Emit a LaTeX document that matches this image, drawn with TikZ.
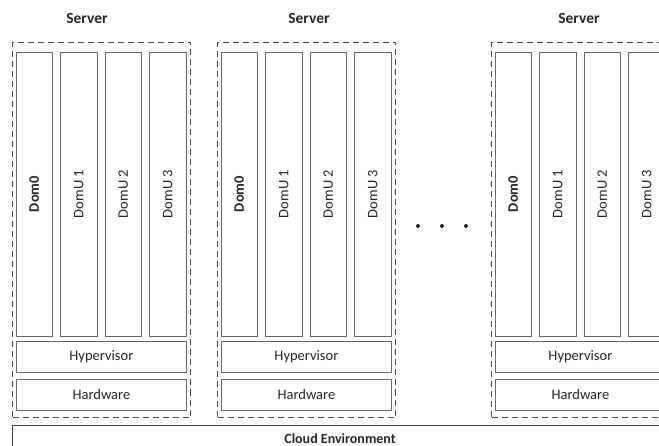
\documentclass[tikz,border=0pt]{standalone}
\usepackage{fontspec}
\setmainfont{Carlito}
\usepackage{tikz}

\begin{document}
\begin{tikzpicture}[
    x=1pt, y=-1pt,
    font=\fontsize{14.5}{16}\selectfont, text=black!85,
    dom/.style={draw=black!60, line width=0.8pt, inner sep=0pt, rotate=90,
                minimum width=284pt, minimum height=36.5pt},
    layer/.style={draw=black!60, line width=0.8pt, inner sep=0pt, anchor=north west,
                  minimum width=170pt, minimum height=31pt},
    host/.style={draw=black!70, line width=1pt, dash pattern=on 6pt off 4pt,
                 inner sep=0pt, anchor=north west, minimum width=178pt, minimum height=375pt}
]
\useasboundingbox (0,0) rectangle (659,446);
\clip (0,0) rectangle (659,446);

% one server: dashed frame, four domains, hypervisor and hardware
\foreach \n/\x/\lx in {1/0/87, 2/205/104, 3/479/100} {
  \begin{scope}[xshift=\x pt]
    \node[host] (host\n) at (12,42) {};
    \node[font=\fontsize{15.5}{17}\selectfont\bfseries] (title\n) at (\lx,18) {Server};
    \node[dom] (dom\n-0) at (34.25,194)  {\textbf{Dom0}};
    \node[dom] (dom\n-1) at (78.75,194)  {DomU 1};
    \node[dom] (dom\n-2) at (123.25,194) {DomU 2};
    \node[dom] (dom\n-3) at (167.75,194) {DomU 3};
    \node[layer] (hyp\n) at (16,341) {Hypervisor};
    \node[layer] (hw\n)  at (16,379) {Hardware};
  \end{scope}
}

% servers left out in between
\foreach \d in {418,442,466}
  \fill[black!85] (\d,226) circle (2);

% the cloud below all servers
\node[draw=black!75, line width=1.2pt, anchor=north west, inner sep=0pt,
      minimum width=700pt, minimum height=40pt] (cloud) at (12,425) {};
\node[font=\fontsize{14}{16}\selectfont\bfseries] (cloudlabel) at (340,438.5) {Cloud Environment};
\end{tikzpicture}
\end{document}
